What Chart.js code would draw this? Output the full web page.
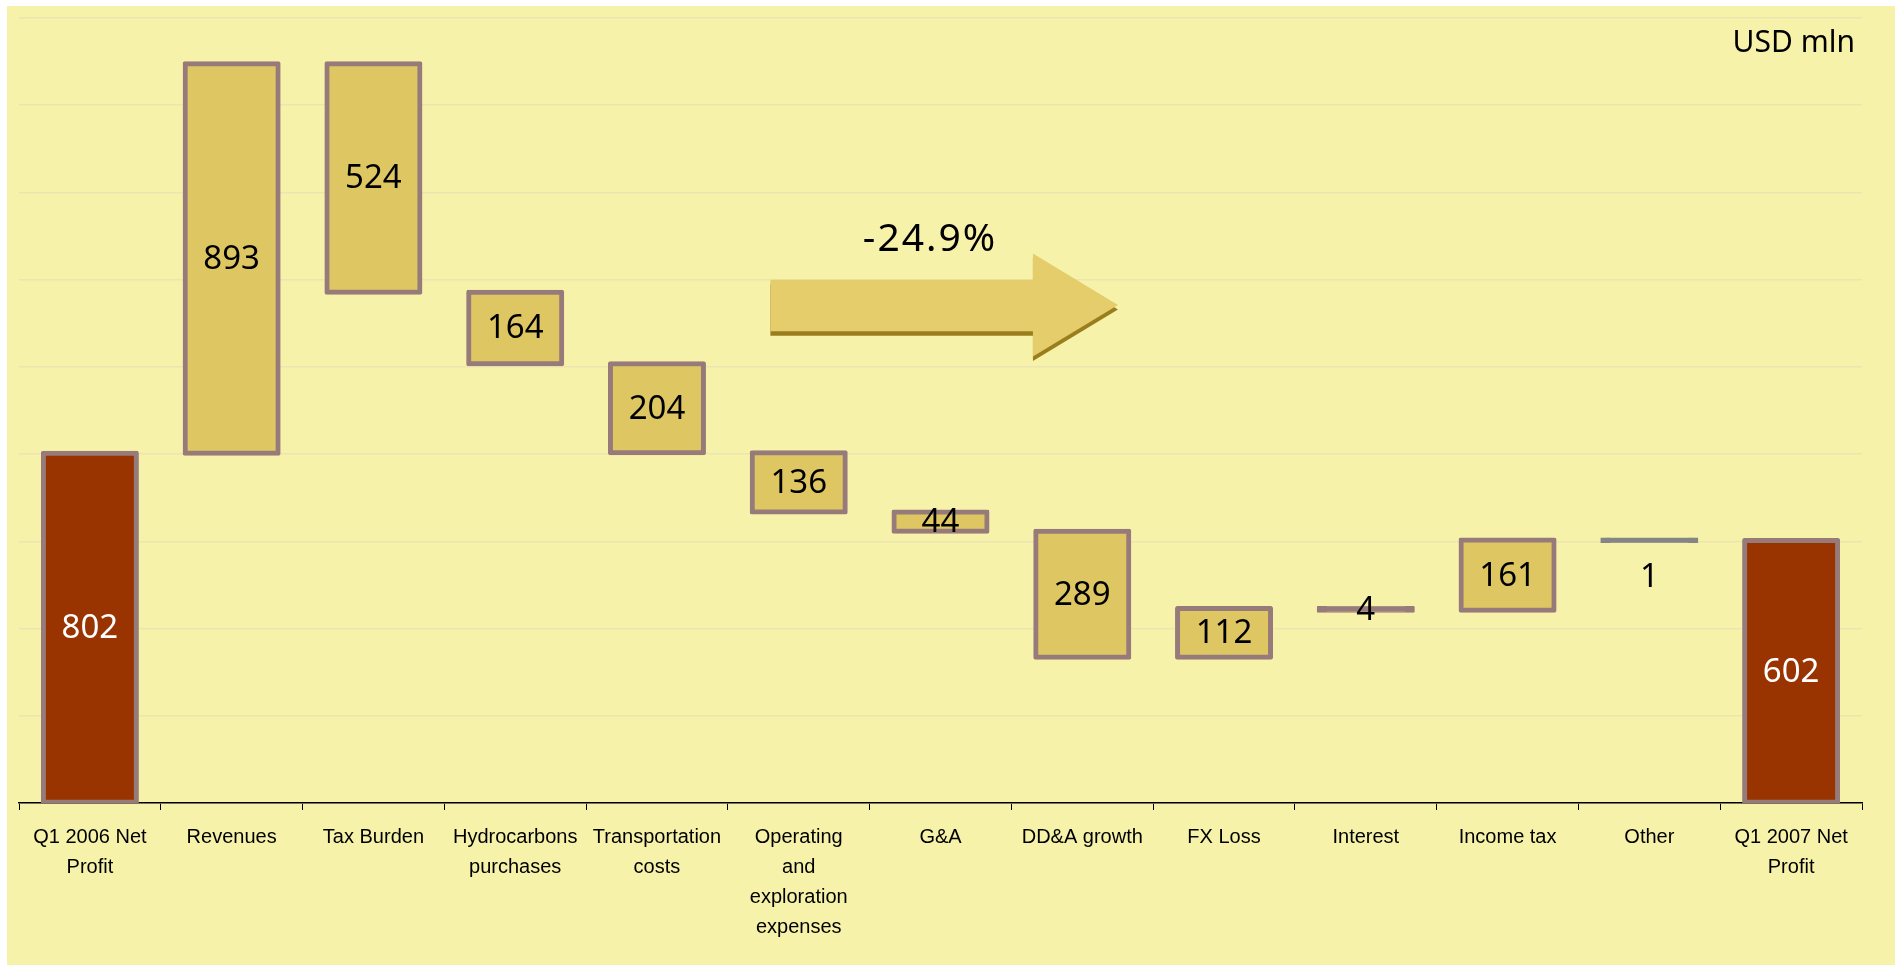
<!DOCTYPE html>
<html><head><meta charset="utf-8">
<script src="https://cdn.jsdelivr.net/npm/chart.js@4.4.1/dist/chart.umd.min.js"></script>
<style>html,body{margin:0;padding:0;background:#fff;overflow:hidden;} canvas{display:block;}</style>
</head><body>
<canvas id="c" width="1900" height="965"></canvas>
<script>
// ---- data ----
const categories = [["Q1 2006 Net","Profit"],"Revenues","Tax Burden",["Hydrocarbons","purchases"],["Transportation","costs"],["Operating","and","exploration","expenses"],"G&A","DD&A growth","FX Loss","Interest","Income tax","Other",["Q1 2007 Net","Profit"]];
const changes = [802, 893, -524, -164, -204, -136, -44, -289, 112, -4, 161, -1, 602];
const isTotal = [true, false, false, false, false, false, false, false, false, false, false, false, true];
const yMin = 0, yMax = 1800, yStep = 200;
const unitLabel = "USD mln";
const growthLabel = "-24.9%";

// floating ranges for the waterfall
let running = 0;
const ranges = changes.map((v, i) => {
  if (isTotal[i]) { running = v; return [0, v]; }
  const s = running; running += v; return [s, running];
});

const GOLD = '#DEC763', RED = '#993300', MAUVE = '#977B7A', GREY = '#858585';
const borders = changes.map((v, i) => (i === 11 ? GREY : MAUVE));
// very thin bars render as a solid line in their border colour
const fills = changes.map((v, i) => isTotal[i] ? RED : (Math.abs(v) < 10 ? borders[i] : GOLD));

const bgPlugin = {
  id: 'bg',
  beforeDraw(chart) {
    const ctx = chart.ctx;
    ctx.save();
    ctx.fillStyle = '#fff';
    ctx.fillRect(0, 0, chart.width, chart.height);
    ctx.fillStyle = '#F7F2AA';
    ctx.fillRect(7, 6, 1888, 959);
    ctx.restore();
  }
};

const labelPlugin = {
  id: 'vlabels',
  afterDatasetsDraw(chart, args, opts) {
    const ctx = chart.ctx;
    const meta = chart.getDatasetMeta(0);
    ctx.save();
    ctx.font = '33px "Noto Sans", sans-serif';
    ctx.textAlign = 'center';
    ctx.textBaseline = 'middle';
    meta.data.forEach((bar, i) => {
      const off = (opts.offsets && opts.offsets[i]) || 0;
      const y = (bar.y + bar.base) / 2 + off;
      ctx.fillStyle = isTotal[i] ? '#ffffff' : '#000000';
      ctx.fillText(String(Math.abs(changes[i])), bar.x, y + 1);
    });
    ctx.restore();
  }
};

const arrowPlugin = {
  id: 'arrow',
  afterDatasetsDraw(chart) {
    const ctx = chart.ctx;
    const xs = chart.scales.x, ys = chart.scales.y;
    const X = v => xs.getPixelForValue(v), Y = v => ys.getPixelForValue(v);
    const pts = [[4.80,1200],[6.652,1200],[6.652,1260],[7.252,1142],[6.652,1024],[6.652,1082],[4.80,1082]]
      .map(p => [X(p[0]), Y(p[1])]);
    const poly = (dy, color) => {
      ctx.beginPath();
      pts.forEach((p, k) => k ? ctx.lineTo(p[0], p[1] + dy) : ctx.moveTo(p[0], p[1] + dy));
      ctx.closePath();
      ctx.fillStyle = color;
      ctx.fill();
    };
    ctx.save();
    poly(4.5, '#9A7E1E');
    poly(0, '#E5CD6B');
    ctx.font = '39px "Noto Sans", sans-serif';
    ctx.letterSpacing = '2px';
    ctx.fillStyle = '#000';
    ctx.textAlign = 'center';
    ctx.textBaseline = 'middle';
    ctx.fillText(growthLabel, X(5.926), Y(1292));
    ctx.letterSpacing = '0px';
    ctx.font = '30px "Noto Sans", sans-serif';
    ctx.textAlign = 'right';
    ctx.fillText(unitLabel, chart.chartArea.right - 7, 43);
    ctx.restore();
  }
};

new Chart(document.getElementById('c'), {
  type: 'bar',
  data: {
    labels: categories,
    datasets: [{
      data: ranges,
      backgroundColor: fills,
      borderColor: borders,
      borderWidth: 5,
      borderSkipped: false,
      borderRadius: 2,
      inflateAmount: 2.5,
      barPercentage: 0.656,
      categoryPercentage: 1
    }]
  },
  options: {
    responsive: false,
    devicePixelRatio: 1,
    animation: false,
    layout: { padding: { left: 19, right: 38, top: 18, bottom: 0 } },
    plugins: {
      legend: { display: false },
      tooltip: { enabled: false },
      vlabels: { offsets: { 11: 36 } }
    },
    scales: {
      x: {
        offset: true,
        grid: { display: true, drawOnChartArea: false, drawTicks: true, tickLength: 7, color: '#000', lineWidth: 1, offset: true },
        border: { display: true, color: '#000', width: 1.5 },
        ticks: {
          autoSkip: false, maxRotation: 0, minRotation: 0, padding: 12,
          color: '#000',
          font: { family: '"Liberation Sans", Arial, sans-serif', size: 20, lineHeight: '30px' }
        },
        afterFit(scale) { scale.height = 162; }
      },
      y: {
        min: yMin, max: yMax,
        ticks: { display: false, stepSize: yStep },
        grid: { color: '#ECE5B0', lineWidth: 1.5, drawTicks: false },
        border: { display: false }
      }
    }
  },
  plugins: [bgPlugin, labelPlugin, arrowPlugin]
});
</script>
</body></html>
